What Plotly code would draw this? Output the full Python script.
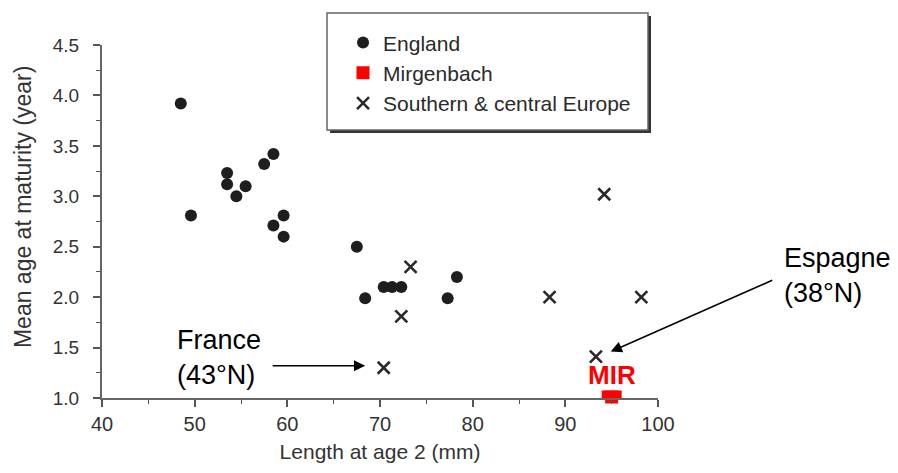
import plotly.graph_objects as go

# ---- data ----
england_x = [48.5, 49.6, 53.5, 53.5, 54.5, 55.5, 57.5, 58.5, 58.5, 59.6, 59.6, 67.5, 68.4, 70.4, 71.3, 72.3, 77.3, 78.3]
england_y = [3.92, 2.81, 3.23, 3.12, 3.00, 3.10, 3.32, 3.42, 2.71, 2.81, 2.60, 2.50, 1.99, 2.10, 2.10, 2.10, 1.99, 2.20]
south_x = [73.3, 72.3, 70.4, 88.3, 98.2, 93.3, 94.2]
south_y = [2.30, 1.81, 1.30, 2.00, 2.00, 1.41, 3.02]
mir_x = [95.0]
mir_y = [1.01]
x_ticks = [40, 50, 60, 70, 80, 90, 100]
y_ticks = [1.0, 1.5, 2.0, 2.5, 3.0, 3.5, 4.0, 4.5]

FONT = "Liberation Sans, Arial, sans-serif"

fig = go.Figure()
fig.add_trace(go.Scatter(
    x=england_x, y=england_y, mode="markers", name="England",
    marker=dict(symbol="circle", size=12, color="#1e1e1e"),
    cliponaxis=False))
fig.add_trace(go.Scatter(
    x=mir_x, y=mir_y, mode="markers", name="Mirgenbach",
    marker=dict(symbol="square", size=13, color="#ff0000"),
    cliponaxis=False))
fig.add_trace(go.Scatter(
    x=south_x, y=south_y, mode="markers", name="Southern & central Europe",
    marker=dict(symbol="x-thin", size=12, color="#2a2a2a",
                line=dict(width=2.6, color="#2a2a2a")),
    cliponaxis=False))

# widen the MIR marker to the reference's rectangle
fig.add_shape(type="rect", xref="x", yref="y",
              xsizemode="pixel", ysizemode="pixel",
              xanchor=mir_x[0], yanchor=mir_y[0],
              x0=-10, x1=10, y0=-6.5, y1=6.5,
              fillcolor="#ff0000", line=dict(width=0), layer="above")

# legend box with shadow
lx0, lx1, ly0, ly1 = 0.4047, 0.982, 0.759, 1.0907
fig.add_shape(type="rect", xref="paper", yref="paper",
              x0=lx0 + 0.0054, x1=lx1 + 0.0054, y0=ly0 - 0.0085, y1=ly1 - 0.0085,
              fillcolor="#333333", line=dict(width=0), layer="above")
fig.add_shape(type="rect", xref="paper", yref="paper",
              x0=lx0, x1=lx1, y0=ly0, y1=ly1,
              fillcolor="white", line=dict(width=1.5, color="#666666"), layer="above")

# annotations
fig.add_annotation(xref="paper", yref="paper", x=0.1313, y=0.115,
                   text="France<br>(43°N)", showarrow=False, align="left",
                   xanchor="left", yanchor="middle",
                   font=dict(family=FONT, size=27, color="black"))
fig.add_annotation(xref="paper", yref="paper", x=1.223, y=0.348,
                   text="Espagne<br>(38°N)", showarrow=False, align="left",
                   xanchor="left", yanchor="middle",
                   font=dict(family=FONT, size=27, color="black"))
fig.add_annotation(x=68.4, y=1.32, xref="x", yref="y", text="",
                   showarrow=True, ax=-94, ay=0, arrowhead=2, arrowsize=1.4,
                   arrowwidth=1.6, arrowcolor="black")
fig.add_annotation(x=94.9, y=1.46, xref="x", yref="y", text="",
                   showarrow=True, ax=163, ay=-72, arrowhead=2, arrowsize=1.4,
                   arrowwidth=1.6, arrowcolor="black")
fig.add_annotation(x=mir_x[0], y=1.23, xref="x", yref="y", text="<b>MIR</b>",
                   showarrow=False,
                   font=dict(family=FONT, size=26, color="#ff0000"))
# y-axis title (placed as in the reference, slightly above centre)
fig.add_annotation(xref="paper", yref="paper", x=-0.142, y=0.541,
                   text="Mean age at maturity (year)", showarrow=False,
                   textangle=-90, xanchor="center", yanchor="middle",
                   font=dict(family=FONT, size=23, color="#333333"))

axis_common = dict(
    showgrid=False, zeroline=False, showline=True, linecolor="#666666", linewidth=2,
    ticks="outside", ticklen=7, tickwidth=1.5, tickcolor="#555555",
    automargin=False,
)
fig.update_xaxes(range=[40, 100], tickmode="array", tickvals=x_ticks,
                 ticktext=[str(v) for v in x_ticks],
                 tickfont=dict(family=FONT, size=20, color="#333333"),
                 minor=dict(ticks="outside", ticklen=4, tickwidth=1.3, tickcolor="#555555", dtick=5, tick0=40),
                 title=dict(text="Length at age 2 (mm)", standoff=10,
                            font=dict(family=FONT, size=21, color="#333333")),
                 **axis_common)
fig.update_yaxes(range=[1, 4.5], tickmode="array", tickvals=y_ticks,
                 ticktext=[f"{v:.1f}" for v in y_ticks],
                 tickfont=dict(family=FONT, size=19, color="#333333"),
                 ticklabelstandoff=10,
                 minor=dict(ticks="outside", ticklen=4, tickwidth=1.3, tickcolor="#555555", dtick=0.25, tick0=1),
                 **axis_common)

fig.update_layout(
    width=890, height=465,
    margin=dict(l=94, r=240, t=37, b=75, autoexpand=False),
    plot_bgcolor="white", paper_bgcolor="white",
    showlegend=True,
    legend=dict(x=0.4335, y=1.064, xanchor="left", yanchor="top",
                bgcolor="rgba(0,0,0,0)", borderwidth=0,
                font=dict(family=FONT, size=21, color="#2a2a2a"),
                traceorder="normal"),
)

fig.write_html("out.html")
